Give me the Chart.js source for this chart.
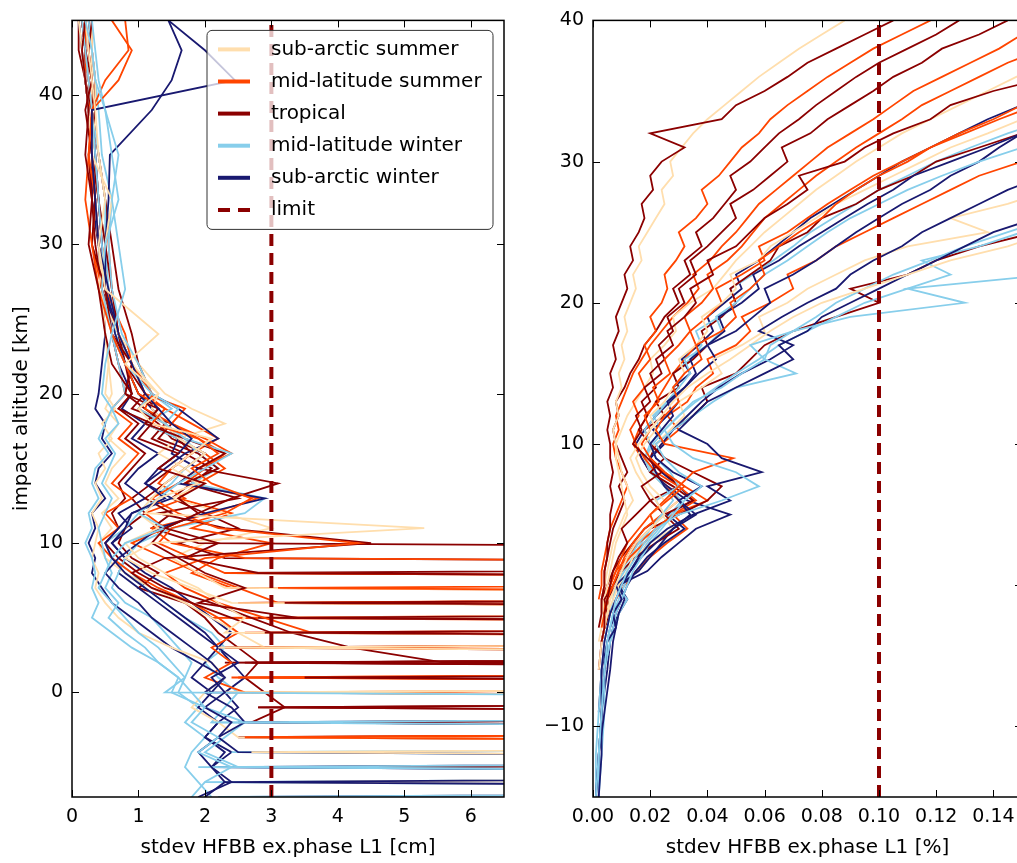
<!DOCTYPE html>
<html>
<head>
<meta charset="utf-8">
<script src="https://cdn.jsdelivr.net/npm/chart.js@4.4.0/dist/chart.umd.min.js"></script>
<style>
  html, body { margin: 0; padding: 0; background: #fff; overflow: hidden; width: 1017px; height: 863px; }
  #left { position: absolute; left: 0; top: 0; }
  #right { position: absolute; left: 520px; top: 0; }
</style>
</head>
<body>
<canvas id="left" width="520" height="863"></canvas>
<canvas id="right" width="510" height="863"></canvas>
<script>
/* classes (legend order) */
const classNames = ['sub-arctic summer', 'mid-latitude summer', 'tropical', 'mid-latitude winter', 'sub-arctic winter'];
const classColors = ['#ffdead', '#ff4500', '#8b0000', '#87ceeb', '#191970'];
const limitLabel = 'limit';
const limitColor = '#8b0000';

/* LEFT: stdev in cm, altitude grid from top down; 40 = far off the axis */
const altLeft = [45, 43, 41, 39, 36, 33, 30, 27, 24, 22, 20, 19, 18, 17, 16, 15, 14, 13, 12, 11, 10, 9, 8, 7, 6, 5, 4, 3, 2, 1, 0, -1, -2, -3, -4, -5, -6, -7];
const leftXTicks = [0, 1, 2, 3, 4, 5, 6];
const leftYTicks = [0, 10, 20, 30, 40];
const limitLeft = 3;

const leftSAS = [
  [0.2,0.25,0.3,0.35,0.4,0.5,0.4,0.5,1.3,0.8,1.3,1.0,1.2,2.1,1.8,1.5,1.9,1.3,1.1,5.3,1.2,0.8,1.2,1.8,2.4,40,40,2.2,40],
  [0.1,0.15,0.2,0.25,0.3,0.6,0.5,0.4,0.7,0.9,1.3,1.2,1.4,1.6,2.0,1.7,1.4,1.2,1.0,1.3,0.8,1.0,1.4,1.9,2.2,2.6,2.3,40,40,40,2.4,40,40,40,2.7,40],
  [0.3,0.3,0.35,0.35,0.3,0.35,0.4,0.45,0.5,0.55,0.5,0.65,0.45,0.6,0.4,0.5,0.35,0.45,0.3,0.4,0.35,0.3,0.4,0.35,0.5,0.7,1.0,1.5,2.1,2.3,2.0,1.8,2.2,2.5,40,40,2.6,40],
  [0.2,0.2,0.25,0.3,0.3,0.35,0.4,0.45,0.5,0.55,0.6,0.5,0.7,0.55,0.8,0.6,0.5,0.7,0.45,0.6,0.4,0.5,0.8,1.2,1.7,2.1,2.5,2.9,40,40,2.3,40],
  [0.25,0.3,0.3,0.3,0.35,0.4,0.5,0.55,0.7,1.0,1.4,1.8,2.3,1.6,1.3,1.7,2.0,1.5,2.3,3.0,2.0,1.5,1.9,2.3,40,2.8,40]
];
const leftMLS = [
  [0.6,0.9,0.7,0.3,0.25,0.2,0.3,0.4,0.6,0.8,1.0,1.4,1.2,1.9,2.2,1.8,2.1,2.7,2.3,1.5,1.3,1.8,2.3,40,2.5,40,40,2.3,40],
  [0.8,0.85,0.5,0.3,0.25,0.35,0.3,0.45,0.6,0.9,1.2,1.1,1.5,2.0,2.4,1.9,1.6,1.2,1.6,2.2,4.3,2.0,1.4,1.7,2.2,2.9,3.6,40,40,2.4,40,40,40,2.6,40],
  [0.2,0.2,0.25,0.3,0.3,0.35,0.4,0.5,0.6,0.7,0.8,0.6,0.9,0.7,1.0,0.8,0.6,0.9,0.5,0.7,0.4,0.6,0.9,1.3,1.8,2.2,2.5,2.1,2.4,2.0,2.6,40,40,3.0,40],
  [0.15,0.2,0.2,0.25,0.3,0.35,0.4,0.5,0.8,0.9,1.1,1.7,1.5,1.9,2.3,2.0,1.7,2.8,2.1,1.2,1.5,2.6,40,3.1,40,40,2.6,40],
  [0.3,0.3,0.35,0.3,0.4,0.5,0.55,0.6,0.7,0.9,1.1,1.4,1.8,2.2,1.8,1.5,1.3,1.7,1.1,1.4,0.9,1.4,1.9,2.5,3.1,40,40,2.7,40,40,2.9,40],
  [0.2,0.25,0.3,0.25,0.3,0.4,0.45,0.55,0.7,0.9,1.2,1.0,1.4,1.6,2.0,2.3,1.9,1.6,2.4,1.8,3.0,2.2,1.8,2.4,40,2.1,40,40,40,2.5,40]
];
const leftTRO = [
  [0.2,0.15,0.2,0.25,0.2,0.3,0.25,0.4,0.5,0.6,0.9,0.7,1.2,1.0,1.6,1.3,2.0,1.6,1.9,1.4,2.2,1.7,2.8,40,3.2,40,2.9,40,40,3.5,40],
  [0.3,0.25,0.3,0.2,0.3,0.35,0.3,0.5,0.6,0.9,0.8,1.3,1.1,1.7,2.3,1.9,3.1,2.4,1.9,1.4,1.2,1.6,2.0,2.6,1.9,3.4,40,40,2.7,40,40,40,3.0,40],
  [0.15,0.2,0.3,0.35,0.25,0.3,0.35,0.45,0.7,0.8,1.1,0.9,1.5,1.3,1.9,2.2,1.7,2.5,1.3,2.3,4.5,1.4,0.9,1.2,1.8,2.4,3.0,40,2.6,40,40,2.8,40,40,40,3.3,40],
  [0.1,0.1,0.2,0.3,0.3,0.4,0.5,0.6,0.7,0.8,0.9,0.7,1.0,0.8,1.1,0.9,0.7,0.8,0.6,0.7,0.5,0.7,1.0,1.4,2.1,2.7,3.3,4.2,5.6,40,40,40,40,2.5,40],
  [0.25,0.3,0.35,0.3,0.4,0.5,0.6,0.7,0.9,1.0,1.2,1.0,1.3,1.5,2.0,1.7,1.4,1.1,1.5,1.2,1.9,40,2.4,40,40,2.8,40,2.2,40],
  [0.2,0.2,0.25,0.3,0.35,0.4,0.45,0.5,0.6,0.8,1.0,1.3,1.1,1.6,1.8,1.5,1.2,0.9,1.1,0.8,0.7,0.9,1.3,1.0,1.7,2.0,2.2,2.5,2.8,2.6,2.9,3.2,2.7,40,40,2.9,40,40],
  [0.15,0.2,0.2,0.25,0.3,0.3,0.4,0.5,0.7,0.9,0.8,1.1,1.4,1.2,1.7,2.1,1.8,1.5,2.0,2.5,1.6,2.3,40,40,2.6,40,40,40,2.3,40,40,2.8,40]
];
const leftMLW = [
  [0.2,0.3,0.35,0.5,0.7,0.6,0.7,0.8,0.6,0.5,0.45,0.6,0.5,0.4,0.55,0.35,0.3,0.4,0.25,0.3,0.2,0.3,0.35,0.3,0.4,0.3,0.6,0.9,1.3,1.6,1.5,2.0,1.8,2.2,1.9,2.4,2.0,1.8],
  [0.3,0.35,0.4,0.5,0.6,0.7,0.5,0.45,0.6,0.8,1.2,1.0,1.4,1.7,2.4,2.0,1.6,1.3,1.0,1.4,0.8,0.6,0.5,0.4,0.6,0.8,1.0,1.3,1.5,1.7,1.4,40,2.1,40,40,1.9,40,40],
  [0.15,0.2,0.25,0.3,0.35,0.4,0.45,0.5,0.6,0.7,0.8,0.6,0.7,0.5,0.65,0.55,0.45,0.6,0.5,0.4,0.45,0.5,0.6,0.5,0.7,0.55,0.8,1.1,1.3,1.6,1.8,2.0,2.6,2.3,2.0,2.5,40,2.2],
  [0.25,0.3,0.35,0.4,0.45,0.6,0.55,0.6,0.75,1.0,1.2,1.6,1.4,1.7,1.9,2.2,1.8,2.9,2.6,1.5,1.0,0.8,0.7,0.6,0.8,1.2,1.4,1.6,1.8,1.7,1.6,1.9,1.7,2.0,1.8,1.7,1.9,2.1],
  [0.2,0.2,0.25,0.3,0.4,0.5,0.5,0.55,0.65,0.9,1.2,1.5,1.1,1.6,2.0,1.7,1.5,1.2,1.0,0.8,0.5,0.6,0.9,1.1,1.4,1.7,2.1,2.3,2.0,2.2,2.5,2.3,2.1,40,2.4,40,2.0,40]
];
const leftSAW = [
  [1.45,2.0,2.45,0.3,0.3,0.35,0.4,0.55,0.7,0.9,1.1,1.3,1.5,1.8,1.6,1.3,1.1,1.4,0.9,0.7,0.5,0.6,0.8,1.1,1.4,1.7,2.0,2.2,2.5,2.1,2.3,2.0,2.4,2.2,1.9,2.1,2.3,2.0],
  [1.45,1.65,1.5,1.2,0.57,0.55,0.5,0.5,0.65,0.8,1.0,1.2,1.4,1.6,1.5,1.9,1.6,2.9,2.0,1.3,1.0,0.7,0.5,0.7,1.0,1.2,1.5,1.8,2.1,2.3,2.0,2.4,2.6,2.2,2.5,40,2.3,40],
  [0.1,0.15,0.2,0.25,0.3,0.35,0.4,0.45,0.5,0.45,0.4,0.35,0.5,0.45,0.6,0.4,0.35,0.5,0.3,0.35,0.25,0.35,0.3,0.45,0.6,0.9,1.2,1.5,1.9,2.3,2.1,1.9,2.2,2.0,2.3,2.1,2.4,1.9],
  [0.2,0.2,0.25,0.3,0.35,0.4,0.45,0.5,0.7,0.9,1.2,1.6,1.9,2.2,1.7,1.4,1.1,1.5,0.9,0.8,0.6,0.8,1.1,1.5,1.8,2.1,2.4,2.2,2.0,1.8,2.1,40,2.5,40,40,2.2,40,40],
  [0.15,0.2,0.2,0.25,0.3,0.3,0.4,0.5,0.6,0.7,0.9,0.75,1.1,0.9,1.3,1.0,0.8,1.1,0.7,0.9,0.6,0.8,0.7,1.0,1.3,1.6,1.9,2.2,2.4,2.6,2.3,2.5,2.2,2.0,2.4,2.1,40,2.6]
];

/* RIGHT: stdev in %, altitude grid from bottom up (null = no data) */
const altRight = [-15, -12, -9, -6, -4, -3, -2, -1, 0, 1, 2, 3, 4, 5, 6, 7, 8, 9, 10, 11, 12, 13, 14, 15, 16, 17, 18, 19, 20, 21, 22, 23, 24, 25, 26, 27, 28, 29, 30, 31, 32, 33, 34, 35, 36, 37, 38, 39, 40];
const rightXTicks = [0, 0.02, 0.04, 0.06, 0.08, 0.10, 0.12, 0.14];
const rightYTicks = [-10, 0, 10, 20, 30, 40];
const limitRight = 0.10;

const rightSAS = [
  [null,null,null,0.002,0.003,0.004,0.005,0.006,0.008,0.010,0.012,0.015,0.020,0.025,0.022,0.018,0.015,0.013,0.016,0.020,0.024,0.028,0.033,0.040,0.048,0.055,0.062,0.070,0.080,0.095,0.110,0.125,0.145,0.160],
  [null,null,null,null,0.003,0.004,0.005,0.007,0.009,0.012,0.014,0.018,0.022,0.020,0.025,0.020,0.017,0.015,0.018,0.022,0.020,0.025,0.028,0.032,0.030,0.036,0.040,0.038,0.045,0.050,0.048,0.058,0.062,0.070,0.078,0.085,0.095,0.105,0.115,0.125,0.138,0.150,0.165],
  [null,null,null,null,null,0.003,0.003,0.004,0.005,0.006,0.007,0.008,0.010,0.012,0.011,0.010,0.009,0.008,0.008,0.007,0.009,0.008,0.010,0.009,0.011,0.010,0.012,0.011,0.013,0.015,0.014,0.017,0.016,0.019,0.022,0.025,0.024,0.028,0.027,0.031,0.035,0.040,0.046,0.052,0.058,0.065,0.072,0.080,0.088],
  [null,null,null,null,0.002,0.003,0.004,0.006,0.008,0.011,0.015,0.020,0.028,0.024,0.030,0.025,0.020,0.018,0.022,0.027,0.032,0.030,0.038,0.045,0.042,0.052,0.060,0.058,0.068,0.075,0.085,0.095,0.110,0.138,0.125,0.145,0.160],
  [null,null,null,null,null,null,0.003,0.003,0.004,0.005,0.006,0.007,0.009,0.011,0.014,0.012,0.010,0.009,0.008,0.010,0.012,0.015,0.018,0.021,0.020,0.025,0.029,0.028,0.034,0.042,0.046,0.050,0.055,0.060,0.066,0.072,0.078,0.085,0.092,0.100,0.108,0.118,0.128,0.138,0.148,0.160]
];
const rightMLS = [
  [null,null,null,null,0.003,0.004,0.004,0.005,0.007,0.009,0.013,0.018,0.022,0.020,0.025,0.030,0.035,0.049,0.025,0.022,0.025,0.030,0.028,0.032,0.038,0.036,0.045,0.050,0.048,0.055,0.060,0.058,0.065,0.072,0.080,0.085,0.092,0.100,0.110,0.118,0.128,0.140,0.150,0.165],
  [null,null,null,null,null,0.003,0.004,0.005,0.006,0.008,0.010,0.012,0.016,0.020,0.026,0.032,0.025,0.020,0.017,0.020,0.018,0.023,0.021,0.027,0.025,0.030,0.034,0.032,0.038,0.042,0.040,0.047,0.052,0.056,0.060,0.066,0.072,0.078,0.085,0.092,0.100,0.108,0.115,0.125,0.135,0.145,0.158],
  [null,null,null,null,null,null,0.004,0.004,0.006,0.008,0.012,0.016,0.022,0.028,0.036,0.030,0.022,0.018,0.015,0.013,0.016,0.014,0.018,0.016,0.020,0.018,0.022,0.020,0.024,0.026,0.025,0.029,0.032,0.030,0.036,0.040,0.038,0.044,0.048,0.052,0.058,0.062,0.068,0.075,0.082,0.090,0.098,0.108,0.118],
  [null,null,null,null,null,0.004,0.005,0.005,0.007,0.009,0.011,0.014,0.018,0.024,0.030,0.026,0.020,0.017,0.014,0.016,0.019,0.022,0.025,0.028,0.032,0.036,0.034,0.040,0.045,0.043,0.052,0.060,0.058,0.068,0.075,0.082,0.090,0.098,0.108,0.118,0.130,0.142,0.155],
  [null,null,null,null,0.003,0.004,0.006,0.008,0.011,0.015,0.020,0.026,0.033,0.028,0.040,0.032,0.025,0.020,0.024,0.030,0.026,0.033,0.036,0.042,0.040,0.050,0.055,0.052,0.062,0.070,0.068,0.078,0.085,0.095,0.105,0.115,0.125,0.135,0.150,0.165],
  [null,null,null,null,null,null,null,0.002,0.003,0.003,0.004,0.005,0.006,0.008,0.010,0.012,0.010,0.008,0.007,0.009,0.008,0.010,0.012,0.014,0.017,0.020,0.024,0.028,0.033,0.037,0.035,0.041,0.045,0.050,0.054,0.058,0.064,0.070,0.076,0.082,0.090,0.098,0.105,0.112,0.122,0.132,0.142,0.150,0.160]
];
const rightTRO = [
  [null,null,null,null,0.003,0.004,0.004,0.005,0.006,0.007,0.009,0.012,0.010,0.015,0.020,0.017,0.024,0.019,0.014,0.017,0.015,0.020,0.018,0.024,0.022,0.028,0.026,0.032,0.036,0.034,0.042,0.040,0.050,0.055,0.060,0.068,0.075,0.072,0.088,0.095,0.105,0.118,0.125,0.140,0.160],
  [null,null,null,null,null,0.002,0.003,0.003,0.004,0.004,0.005,0.005,0.006,0.006,0.007,0.006,0.007,0.006,0.006,0.005,0.006,0.005,0.007,0.006,0.008,0.007,0.009,0.008,0.010,0.012,0.011,0.014,0.013,0.016,0.018,0.017,0.021,0.020,0.024,0.032,0.020,0.045,0.050,0.060,0.068,0.075,0.085,0.095,0.105],
  [null,null,null,0.002,0.003,0.004,0.005,0.004,0.007,0.010,0.015,0.022,0.030,0.025,0.035,0.028,0.020,0.025,0.020,0.018,0.025,0.022,0.030,0.028,0.035,0.040,0.038,0.045,0.050,0.048,0.055,0.062,0.065,0.075,0.080,0.092,0.100,0.112,0.120,0.135,0.150,0.165],
  [null,null,null,null,0.003,0.004,0.006,0.005,0.008,0.010,0.012,0.015,0.020,0.030,0.040,0.045,0.035,0.025,0.020,0.016,0.019,0.017,0.022,0.020,0.025,0.023,0.028,0.026,0.032,0.030,0.036,0.034,0.040,0.045,0.050,0.048,0.056,0.062,0.068,0.066,0.076,0.082,0.090,0.098,0.105,0.115,0.122,0.135,0.145],
  [null,null,null,null,null,null,null,0.003,0.005,0.007,0.010,0.014,0.018,0.025,0.020,0.030,0.025,0.020,0.022,0.028,0.035,0.040,0.038,0.050,0.055,0.060,0.070,0.085,0.100,0.090,0.110,0.120,0.135,0.155],
  [null,null,null,null,null,null,0.003,0.003,0.004,0.004,0.005,0.006,0.007,0.009,0.011,0.009,0.012,0.010,0.008,0.007,0.009,0.008,0.011,0.013,0.016,0.018,0.022,0.025,0.030,0.028,0.034,0.032,0.038,0.036,0.042,0.046,0.050,0.048,0.055,0.060,0.065,0.072,0.078,0.085,0.092,0.100,0.110,0.120,0.128]
];
const rightMLW = [
  [0.001,0.002,0.003,0.004,0.005,0.006,0.007,0.008,0.010,0.012,0.015,0.018,0.022,0.030,0.045,0.058,0.050,0.035,0.028,0.025,0.030,0.035,0.045,0.052,0.060,0.055,0.070,0.090,0.130,0.110,0.160],
  [0.002,0.002,0.003,0.004,0.006,0.007,0.008,0.010,0.012,0.014,0.017,0.020,0.024,0.028,0.032,0.038,0.030,0.025,0.022,0.028,0.035,0.042,0.050,0.071,0.060,0.062,0.070,0.078,0.085,0.095,0.105,0.118,0.130,0.145,0.160],
  [0.001,0.001,0.002,0.003,0.004,0.005,0.006,0.007,0.008,0.010,0.013,0.016,0.020,0.025,0.022,0.030,0.027,0.022,0.020,0.018,0.022,0.026,0.030,0.034,0.032,0.040,0.045,0.043,0.050,0.055,0.060,0.068,0.075,0.082,0.090,0.100,0.110,0.122,0.135,0.150,0.165],
  [0.002,0.003,0.004,0.004,0.006,0.008,0.009,0.012,0.008,0.011,0.014,0.017,0.020,0.024,0.028,0.025,0.020,0.018,0.021,0.025,0.030,0.036,0.043,0.050,0.058,0.065,0.075,0.085,0.095,0.110,0.125,0.115,0.135,0.150,0.165],
  [null,0.002,0.003,0.004,0.005,0.006,0.007,0.009,0.011,0.013,0.016,0.019,0.023,0.027,0.031,0.026,0.021,0.018,0.020,0.024,0.021,0.026,0.030,0.028,0.034,0.038,0.036,0.044,0.050,0.048,0.056,0.063,0.070,0.076,0.084,0.092,0.100,0.110,0.120,0.132,0.145,0.160]
];
const rightSAW = [
  [0.002,0.003,0.003,0.004,0.005,0.008,0.007,0.010,0.008,0.013,0.016,0.020,0.026,0.035,0.048,0.040,0.059,0.045,0.040,0.030,0.035,0.040,0.050,0.060,0.070,0.065,0.075,0.080,0.090,0.100,0.110,0.120,0.130,0.140,0.155],
  [0.001,0.002,0.003,0.003,0.004,0.005,0.006,0.008,0.010,0.013,0.017,0.022,0.028,0.036,0.030,0.038,0.028,0.022,0.020,0.024,0.028,0.026,0.032,0.036,0.034,0.040,0.046,0.044,0.052,0.058,0.056,0.065,0.072,0.080,0.088,0.096,0.105,0.112,0.125,0.138,0.150,0.165],
  [0.001,0.002,0.004,0.006,0.007,0.008,0.009,0.011,0.009,0.016,0.020,0.024,0.028,0.034,0.030,0.025,0.022,0.020,0.024,0.028,0.033,0.038,0.044,0.052,0.062,0.070,0.058,0.066,0.075,0.085,0.090,0.098,0.108,0.115,0.125,0.135,0.145,0.158],
  [0.002,0.002,0.003,0.005,0.006,0.007,0.009,0.012,0.009,0.019,0.024,0.030,0.036,0.048,0.033,0.026,0.020,0.017,0.015,0.018,0.022,0.027,0.032,0.037,0.043,0.040,0.050,0.056,0.062,0.060,0.070,0.078,0.085,0.092,0.100,0.108,0.118,0.125,0.135,0.142,0.150,0.160],
  [null,null,0.002,0.003,0.005,0.006,0.008,0.010,0.012,0.015,0.019,0.025,0.032,0.026,0.035,0.030,0.024,0.020,0.025,0.021,0.026,0.030,0.028,0.034,0.031,0.037,0.042,0.040,0.046,0.052,0.050,0.058,0.064,0.070,0.076,0.084,0.092,0.100,0.108,0.118,0.128,0.138,0.150,0.162]
];

Chart.defaults.font.family = '"DejaVu Sans", sans-serif';
Chart.defaults.color = '#000';

function buildDatasets(groups, alts, limitX, yMin, yMax) {
  const sets = [{
    label: limitLabel,
    data: [{x: limitX, y: yMin}, {x: limitX, y: yMax}],
    borderColor: limitColor,
    borderWidth: 4,
    borderDash: [12, 7],
    showLine: true,
    pointRadius: 0
  }];
  // interleave the classes so no colour sits entirely on top
  const drawOrder = [3, 2, 0, 4, 1];
  const most = Math.max(...groups.map(g => g.length));
  for (let i = 0; i < most; i++) {
    drawOrder.forEach(c => {
      const prof = groups[c][i];
      if (!prof) return;
      sets.push({
        label: classNames[c],
        data: prof.map((v, k) => v === null ? null : {x: v, y: alts[k]}).filter(p => p),
        borderColor: classColors[c],
        borderWidth: 1.8,
        showLine: true,
        pointRadius: 0,
        clip: 0
      });
    });
  }
  return sets;
}

function minusFmt(v) {
  return v < 0 ? '\u2212' + Math.abs(v) : String(v);
}

function drawLegend(ctx, a) {
  const right = a.right - 11, top = a.top + 10, w = 286, h = 199, left = right - w;
  ctx.beginPath();
  ctx.roundRect(left, top, w, h, 5);
  ctx.fillStyle = 'rgba(255,255,255,0.75)';
  ctx.fill();
  ctx.lineWidth = 1;
  ctx.strokeStyle = '#333';
  ctx.stroke();
  const items = classNames.map((n, i) => ({label: n, color: classColors[i], dash: []}));
  items.push({label: limitLabel, color: limitColor, dash: [12, 8]});
  ctx.font = '20px "DejaVu Sans"';
  ctx.textBaseline = 'middle';
  items.forEach((it, i) => {
    const y = top + 19 + i * 32.1;
    ctx.strokeStyle = it.color;
    ctx.lineWidth = 4;
    ctx.setLineDash(it.dash);
    ctx.beginPath();
    ctx.moveTo(left + 11, y);
    ctx.lineTo(left + 43, y);
    ctx.stroke();
    ctx.setLineDash([]);
    ctx.fillStyle = '#000';
    ctx.fillText(it.label, left + 64, y);
  });
}

const framePlugin = {
  id: 'frame',
  afterDatasetsDraw(chart, args, opts) {
    const {ctx, chartArea: a} = chart;
    const xs = chart.scales.x, ys = chart.scales.y;
    ctx.save();
    ctx.strokeStyle = '#000';
    ctx.lineWidth = 1;
    ctx.beginPath();
    xs.ticks.forEach(t => {
      const p = Math.round(xs.getPixelForValue(t.value)) + 0.5;
      ctx.moveTo(p, a.bottom); ctx.lineTo(p, a.bottom - 7);
      ctx.moveTo(p, a.top); ctx.lineTo(p, a.top + 7);
    });
    ys.ticks.forEach(t => {
      const p = Math.round(ys.getPixelForValue(t.value)) + 0.5;
      ctx.moveTo(a.left, p); ctx.lineTo(a.left + 7, p);
      ctx.moveTo(a.right, p); ctx.lineTo(a.right - 7, p);
    });
    ctx.stroke();
    ctx.lineWidth = 1.5;
    ctx.strokeRect(a.left, a.top, a.right - a.left, a.bottom - a.top);
    if (opts.legend) drawLegend(ctx, a);
    ctx.restore();
  }
};

function makeChart(id, cfg) {
  return new Chart(document.getElementById(id), {
    type: 'scatter',
    data: {datasets: cfg.datasets},
    options: {
      responsive: false,
      animation: false,
      layout: {padding: {top: 15, right: cfg.padRight, bottom: 0, left: 0}},
      plugins: {legend: {display: false}, tooltip: {enabled: false}, frame: {legend: cfg.legend}},
      scales: {
        x: {
          type: 'linear', min: cfg.xMin, max: cfg.xMax,
          grid: {display: false, drawTicks: false},
          border: {display: false},
          afterBuildTicks: s => { s.ticks = cfg.xTicks.map(v => ({value: v})); },
          afterFit: s => { s.height = 66; },
          ticks: {font: {size: 19}, padding: 9, maxRotation: 0, autoSkip: false, callback: cfg.xFmt},
          title: {display: true, text: cfg.xTitle, font: {size: 20}, padding: {top: 0, bottom: 3}}
        },
        y: {
          type: 'linear', min: cfg.yMin, max: cfg.yMax,
          grid: {display: false, drawTicks: false},
          border: {display: false},
          afterBuildTicks: s => { s.ticks = cfg.yTicks.map(v => ({value: v})); },
          afterFit: s => { s.width = cfg.yWidth; },
          ticks: {font: {size: 19}, padding: 9, autoSkip: false, callback: v => minusFmt(v)},
          title: {display: !!cfg.yTitle, text: cfg.yTitle || '', font: {size: 20}, padding: {top: 10, bottom: 0}}
        }
      }
    },
    plugins: [framePlugin]
  });
}

makeChart('left', {
  datasets: buildDatasets([leftSAS, leftMLS, leftTRO, leftMLW, leftSAW], altLeft, limitLeft, -7, 45),
  xMin: 0, xMax: 6.5, yMin: -7, yMax: 45,
  xTicks: leftXTicks, yTicks: leftYTicks,
  xFmt: v => String(v),
  xTitle: 'stdev HFBB ex.phase L1 [cm]',
  yTitle: 'impact altitude [km]',
  yWidth: 72, padRight: 16, legend: true
});

makeChart('right', {
  datasets: buildDatasets([rightSAS, rightMLS, rightTRO, rightMLW, rightSAW], altRight, limitRight, -15, 40),
  xMin: 0, xMax: 0.15, yMin: -15, yMax: 40,
  xTicks: rightXTicks, yTicks: rightYTicks,
  xFmt: v => v.toFixed(2),
  xTitle: 'stdev HFBB ex.phase L1 [%]',
  yTitle: '',
  yWidth: 73, padRight: 8, legend: false
});
</script>
</body>
</html>
